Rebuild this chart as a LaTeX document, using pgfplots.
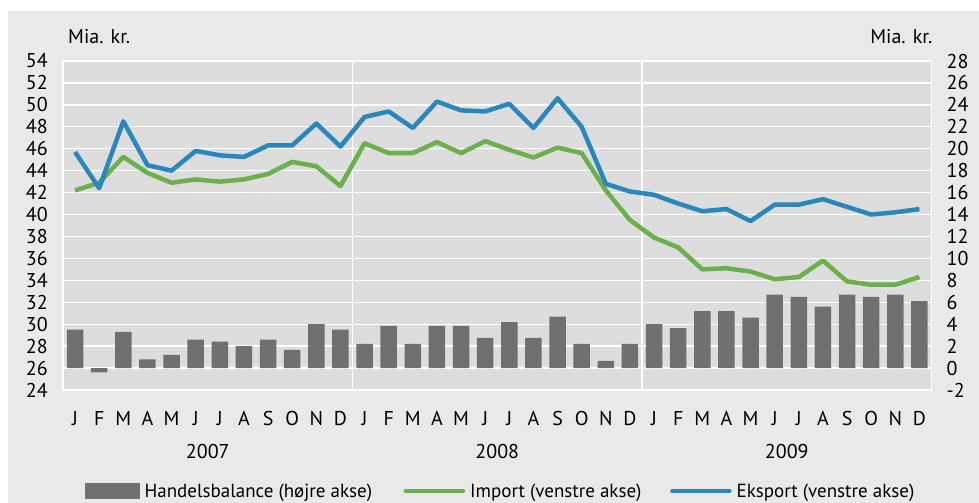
\documentclass[border=0pt]{standalone}
\usepackage{pgfplots}
\pgfplotsset{compat=1.18}
\usepackage{pgfplotstable}
\usepackage{fontspec}
\setmainfont{PT Sans}
\definecolor{outerbg}{HTML}{E9E9E9}
\definecolor{plotbg}{HTML}{DDDDDD}
\definecolor{barcol}{HTML}{707070}
\definecolor{impcol}{HTML}{6AB04C}
\definecolor{ekscol}{HTML}{2A87BE}
\newcommand\fs{\fontsize{20bp}{24bp}\selectfont}
\newcommand\lfs{\fontsize{19bp}{23bp}\selectfont}
\pgfplotsset{
  mylinelegend/.style={legend image code/.code={\draw[##1, line cap=round] (0bp,0bp) -- (57bp,0bp);}},
  mybarlegend/.style={legend image code/.code={\fill[barcol] (0bp,-7.5bp) rectangle (54bp,7.5bp);}},
}

\pgfplotstableread{
x eks imp bal
0 45.7 42.2 3.5
1 42.4 42.9 -0.4
2 48.5 45.25 3.3
3 44.5 43.8 0.8
4 44.0 42.9 1.2
5 45.8 43.2 2.6
6 45.4 43.0 2.4
7 45.25 43.2 2.0
8 46.3 43.7 2.6
9 46.3 44.8 1.65
10 48.3 44.4 4.0
11 46.2 42.6 3.5
12 48.9 46.5 2.2
13 49.4 45.6 3.85
14 47.9 45.6 2.2
15 50.3 46.6 3.85
16 49.5 45.6 3.85
17 49.4 46.7 2.75
18 50.1 45.9 4.2
19 47.9 45.2 2.75
20 50.6 46.1 4.7
21 48.0 45.6 2.2
22 42.8 42.2 0.65
23 42.1 39.5 2.2
24 41.8 37.9 4.0
25 41.0 37.0 3.65
26 40.3 35.0 5.2
27 40.5 35.1 5.2
28 39.4 34.8 4.6
29 40.9 34.1 6.7
30 40.9 34.3 6.5
31 41.4 35.8 5.6
32 40.7 33.9 6.7
33 40.0 33.6 6.5
34 40.2 33.6 6.7
35 40.5 34.3 6.1
}\data

\begin{document}
\begin{tikzpicture}
\useasboundingbox (-63bp,-113bp) rectangle (916bp,390bp);
\fill[outerbg] (-55bp,-113bp) rectangle (916bp,379bp);
\begin{axis}[
  scale only axis, width=868.5bp, height=329bp,
  xmin=-0.5, xmax=35.5, ymin=-2, ymax=28,
  axis background/.style={fill=plotbg},
  ytick={-2,0,...,28}, yticklabel pos=right,
  xtick={0,...,35},
  xticklabels={J,F,M,A,M,J,J,A,S,O,N,D,J,F,M,A,M,J,J,A,S,O,N,D,J,F,M,A,M,J,J,A,S,O,N,D},
  major tick length=0pt,
  ymajorgrids, grid style={white, line width=1.3bp},
  extra x ticks={11.5,23.5}, extra x tick labels={},
  extra x tick style={grid=major},
  axis line style={white, line width=1.3bp},
  tick label style={font=\fs},
  /pgf/number format/assume math mode=true,
  yticklabel style={anchor=west, inner sep=0pt, xshift=15bp},
  xticklabel style={anchor=base, yshift=-35bp, inner sep=0pt},
]
\addplot[ybar, bar width=0.68, fill=barcol, draw=none, bar shift=0pt] table[x=x,y=bal]{\data};
\end{axis}
\begin{axis}[
  scale only axis, width=868.5bp, height=329bp,
  xmin=-0.5, xmax=35.5, ymin=24, ymax=54,
  clip=false,
  axis line style={draw=none},
  xtick=\empty,
  ytick={24,26,...,54}, yticklabel pos=left,
  major tick length=0pt,
  tick label style={font=\fs},
  /pgf/number format/assume math mode=true,
  yticklabel style={anchor=east, inner sep=0pt, xshift=-15bp},
  legend style={draw=none, fill=none, at={(rel axis cs:0,0)}, anchor=west,
    xshift=22bp, yshift=-101bp,
    legend columns=3, font=\lfs, inner sep=0pt, row sep=0pt,
    /tikz/every even column/.append style={column sep=0pt},
    nodes={inner xsep=5bp, inner ysep=0pt}},
  legend cell align=left,
]
\addlegendimage{mybarlegend}
\addlegendentry{\makebox[254bp][l]{Handelsbalance (højre akse)}}
\addplot[impcol, line width=4.5bp, line join=round, mylinelegend] table[x=x,y=imp]{\data};
\addlegendentry{\makebox[195bp][l]{Import (venstre akse)}}
\addplot[ekscol, line width=4.5bp, line join=round, mylinelegend] table[x=x,y=eks]{\data};
\addlegendentry{Eksport (venstre akse)}
\node[anchor=base west, font=\fs, inner sep=0pt, xshift=5bp, yshift=18bp] at (rel axis cs:0,1) {Mia. kr.};
\node[anchor=base east, font=\fs, inner sep=0pt, xshift=1bp, yshift=18bp] at (rel axis cs:1,1) {Mia. kr.};
\node[anchor=base, font=\fs, inner sep=0pt, yshift=-68bp] at (axis cs:5.5,24) {2007};
\node[anchor=base, font=\fs, inner sep=0pt, yshift=-68bp] at (axis cs:17.5,24) {2008};
\node[anchor=base, font=\fs, inner sep=0pt, yshift=-68bp] at (axis cs:29.5,24) {2009};
\end{axis}
\end{tikzpicture}
\end{document}
